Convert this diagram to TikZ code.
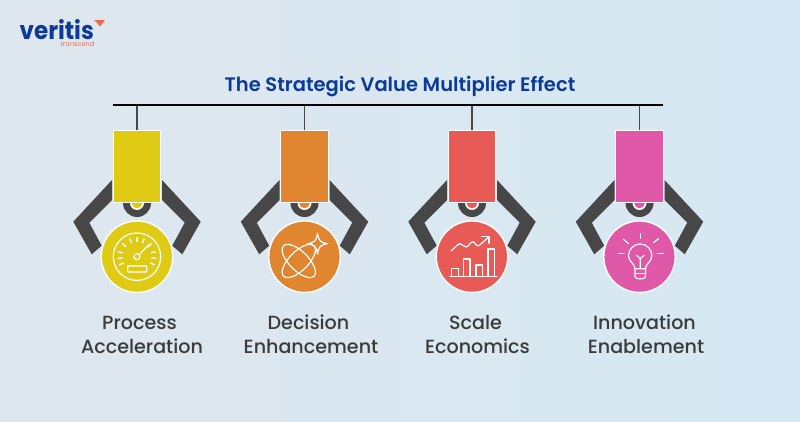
\documentclass[tikz,border=0pt]{standalone}
\usepackage{fontspec}
\setmainfont{Poppins}
\newfontfamily\medfont{Poppins Medium}
\newfontfamily\semifont{Poppins SemiBold}
\definecolor{bgl}{HTML}{DFE7EE}
\definecolor{bgr}{HTML}{D5E8F3}
\definecolor{dark}{HTML}{474747}
\definecolor{ink}{HTML}{3B3B3B}
\definecolor{navy}{HTML}{0B3A98}
\definecolor{logoor}{HTML}{EE6A4A}
\definecolor{cyel}{HTML}{E0CB14}
\definecolor{cora}{HTML}{E08530}
\definecolor{cred}{HTML}{E85A55}
\definecolor{cmag}{HTML}{E058A8}
\tikzset{
  armshape/.style={fill=dark,draw=none},
  bodybox/.style={draw=white,line width=1.4pt,minimum width=47.5pt,minimum height=72pt,inner sep=0pt},
  disc/.style={circle,draw=white,line width=1.4pt,minimum size=71.5pt,inner sep=0pt},
  caption/.style={font=\medfont\fontsize{19.1}{24}\selectfont,text=ink,anchor=base,inner sep=0pt},
  stemline/.style={draw=dark,line width=1.8pt},
  ic/.style={draw=white,line width=1.2pt,line cap=round,line join=round},
}
\newcommand{\gripper}[3]{%
  \begin{scope}[shift={(#2,0)}]
    \fill[armshape] (-25,180)--(-63.7,221.7)--(-45.3,254.3)--(-35.3,245.7)--(-47.7,222.7)--(-25,200)--cycle;
    \fill[armshape] (25,180)--(63.7,221.7)--(45.3,254.3)--(35.3,245.7)--(47.7,222.7)--(25,200)--cycle;
    \fill[dark] (-14,203) arc (180:0:14) -- cycle;
    \fill[white] (-7,203) arc (180:0:7) -- cycle;
    \fill[#3] (-5.3,203) arc (180:0:5.3) -- cycle;
    \coordinate (b#1) at (0,105);
    \node[bodybox,fill=#3] (r#1) at (0,166.5) {};
    \draw[stemline] (b#1) -- (r#1.north);
    \node[disc,fill=#3] (c#1) at (0,256.7) {};
  \end{scope}}
\begin{document}
\begin{tikzpicture}[x=1pt,y=-1pt]
\useasboundingbox (0,0) rectangle (800,422);
\fill[left color=bgl,right color=bgr] (0,0) rectangle (800,422);
% logo
\node[anchor=base west,inner sep=0pt,text=navy,font=\bfseries\fontsize{25}{25}\selectfont,xscale=0.92] (logo) at (19.5,39.5) {veritis};
\node[anchor=base east,inner sep=0pt,text=logoor,font=\fontsize{6.6}{7}\selectfont] (sub) at (94.5,47) {transcend};
\fill[logoor] (94,20)--(105,20.3)--(100,26.5)--(97.5,23.5)--cycle;
% title
\node[font=\semifont\fontsize{19.5}{22}\selectfont,text=navy,inner sep=0pt,anchor=base] (title) at (400,91.5) {The Strategic Value Multiplier Effect};
\gripper{1}{137}{cyel}
\gripper{2}{304.5}{cora}
\gripper{3}{472}{cred}
\gripper{4}{639.5}{cmag}
\coordinate (barl) at (113,105);
\coordinate (barr) at (663,105);
\draw[black,line width=2pt] (barl) -- (barr);
% speedometer
\begin{scope}[shift={(137,256.7)}]
  \draw[ic] (0,0) circle (23.7);
  \foreach \a in {25,5,-15,-42,-68,-90,-112,-138,-165,-185,-205} {\draw[ic,line width=1.3pt,line cap=butt] (\a:14.5) -- (\a:19.5);}
  \draw[ic] (2,-2) -- (12.3,-12.3);
  \draw[ic] (0,0) circle (3);
  \draw[ic,rounded corners=0.6pt] (-9.3,9.2) rectangle (9.7,15.3);
\end{scope}
% atom
\begin{scope}[shift={(304.5,256.7)}]
  \draw[ic] (-5.7,4.3) ellipse [x radius=21.5,y radius=9.5,rotate=45];
  \draw[ic] (-5.7,4.3) ellipse [x radius=21.5,y radius=9.5,rotate=-45];
  \draw[ic] (13,-23.5) .. controls (14,-16) and (16,-14) .. (23,-13)
    .. controls (16,-12) and (14,-10) .. (13,-2.5)
    .. controls (12,-10) and (10,-12) .. (3,-13)
    .. controls (10,-14) and (12,-16) .. (13,-23.5) -- cycle;
\end{scope}
% chart
\begin{scope}[shift={(472,256.7)}]
  \draw[ic] (-22,20) -- (25,20);
  \draw[ic] (-20.3,20) -- (-20.3,11.7) -- (-13.7,11.7) -- (-13.7,20);
  \draw[ic] (-8.7,20) -- (-8.7,2.3) -- (-2,2.3) -- (-2,20);
  \draw[ic] (4,20) -- (4,8.3) -- (10.3,8.3) -- (10.3,20);
  \draw[ic] (16,20) -- (16,-7.7) -- (22.3,-7.7) -- (22.3,20);
  \draw[ic] (-21,-5.7) .. controls (-17,-9) and (-14,-13) .. (-12,-13)
     .. controls (-9,-13) and (-8,-9) .. (-5,-10)
     .. controls (-3,-11) and (-1,-15) .. (1,-15)
     .. controls (3,-15) and (4,-10) .. (7,-11) -- (17,-20);
  \draw[ic] (9.5,-20) -- (17,-20) -- (17,-13.5);
\end{scope}
% bulb
\begin{scope}[shift={(639.5,256.7)}]
  \draw[ic] (-4.5,12) .. controls (-4.5,7) and (-11,5) .. (-11,-1)
     arc (-180:0:11.7) .. controls (12.4,5) and (6,7) .. (6,12) -- cycle;
  \draw[ic] (0.7,11) -- (0.7,2) (-3,-1.5) -- (0.7,2) -- (4.5,-1.5);
  \draw[ic] (-4.5,17) -- (6,17);
  \draw[ic] (-4.5,12) -- (-4.5,20) .. controls (-4.5,23) and (6,23) .. (6,20) -- (6,12);
  \draw[ic] (1,-23) -- (1,-18.5);
  \draw[ic] (-16,-17.5) -- (-11,-13);
  \draw[ic] (19,-18) -- (14,-14);
  \draw[ic] (-21,-3.5) -- (-15.5,-3.5);
  \draw[ic] (18,-3.5) -- (24,-3.5);
\end{scope}
% labels
\node[caption] (l1a) at (139.5,329.3) {Process};
\node[caption] (l1b) at (142,353) {Acceleration};
\node[caption] (l2a) at (308.5,329.3) {Decision};
\node[caption] (l2b) at (311,353) {Enhancement};
\node[caption] (l3a) at (475.5,329.3) {Scale};
\node[caption] (l3b) at (477.5,353) {Economics};
\node[caption] (l4a) at (644.5,329.3) {Innovation};
\node[caption] (l4b) at (646,353) {Enablement};
\end{tikzpicture}
\end{document}
